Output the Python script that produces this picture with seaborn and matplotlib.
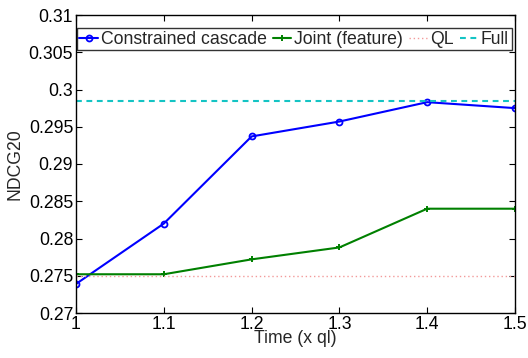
import numpy as np
import pandas as pd
import matplotlib
matplotlib.use("Agg")
import matplotlib.pyplot as plt
import seaborn as sns

# Budget multiples (x axis)
time_x = [1.0, 1.1, 1.2, 1.3, 1.4, 1.5]

# NDCG@20 for each method
constrained_cascade = [0.2739, 0.2820, 0.2937, 0.2957, 0.2983, 0.2975]
joint_feature = [0.2752, 0.2752, 0.2772, 0.2788, 0.2840, 0.2840]
ql_value = 0.2750
full_value = 0.2985

series_names = ["Constrained cascade", "Joint (feature)", "QL", "Full"]
y_ticks = [0.27, 0.275, 0.28, 0.285, 0.29, 0.295, 0.3, 0.305, 0.31]
x_ticks = [1.0, 1.1, 1.2, 1.3, 1.4, 1.5]

sns.set_style("white")
plt.rcParams["font.family"] = ["Liberation Sans", "DejaVu Sans"]
FS = 12.7

df = pd.DataFrame({
    "time": time_x * 4,
    "ndcg": constrained_cascade + joint_feature + [ql_value] * 6 + [full_value] * 6,
    "method": sum([[n] * 6 for n in series_names], []),
})

fig = plt.figure(figsize=(5.28, 3.58), dpi=100)
ax = fig.add_axes([76 / 528, 1 - 313 / 358, (515 - 76) / 528, (313 - 15) / 358])

styles = {
    "Constrained cascade": dict(color="#0000ff", marker="o", markersize=4.3,
                                markerfacecolor="none", markeredgecolor="#0000ff",
                                markeredgewidth=1.3, linewidth=1.5, linestyle="-"),
    "Joint (feature)": dict(color="#008000", marker="+", markersize=4.5,
                            markeredgecolor="#008000", markeredgewidth=1.4,
                            linewidth=1.5, linestyle="-"),
    "QL": dict(color="#f39a9a", linewidth=1.0, linestyle=(0, (1, 2))),
    "Full": dict(color="#14c4c4", linewidth=1.5, linestyle=(0, (2.8, 2.2))),
}

for name in series_names:
    sub = df[df["method"] == name]
    sns.lineplot(data=sub, x="time", y="ndcg", ax=ax, label=name,
                 estimator=None, sort=False, **styles[name])

ax.set_xlim(1.0, 1.5)
ax.set_ylim(0.27, 0.31)
ax.set_xticks(x_ticks)
ax.set_xticklabels([f"{v:g}" for v in x_ticks], fontsize=FS)
ax.set_yticks(y_ticks)
ax.set_yticklabels([f"{v:g}" for v in y_ticks], fontsize=FS)
ax.tick_params(direction="in", length=4, width=0.8, top=True, right=True,
               bottom=True, left=True, pad=2, colors="black")
for sp in ax.spines.values():
    sp.set_visible(True)
    sp.set_color("black")
    sp.set_linewidth(1.0)

ax.set_xlabel("Time (x ql)", fontsize=FS, labelpad=-2)
ax.set_ylabel("NDCG20", fontsize=FS, labelpad=4)

leg = ax.legend(loc="upper center", bbox_to_anchor=(0.497, 0.956), ncol=4,
                fontsize=FS, frameon=True, fancybox=False, handlelength=1.05,
                handletextpad=0.15, columnspacing=0.35, borderpad=0.15,
                borderaxespad=0.0, edgecolor="black")
leg.get_frame().set_linewidth(1.0)

fig.savefig("out.png", dpi=100)
